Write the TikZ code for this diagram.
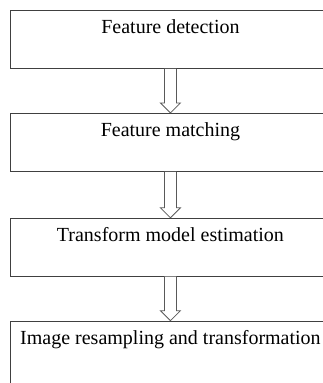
\documentclass[tikz,border=0pt]{standalone}
\usepackage{fontspec}
\setmainfont{Liberation Serif}
\usetikzlibrary{positioning,calc}
\begin{document}
\begin{tikzpicture}[x=1pt,y=1pt,
    stage/.style={draw=black!75, line width=0.9pt, minimum width=320pt, inner xsep=0pt,
      inner ysep=10pt, text height=13pt, text depth=25pt, font=\fontsize{20}{24}\selectfont},
    hollow/.style={draw=black!65, line width=0.8pt, fill=white}]
      \def\blockarrow#1#2{\draw[hollow] ($(#1.south)+(-6,0)$) -- ($(#2.north)+(-6,10)$)
        -- ($(#2.north)+(-10,10)$) -- (#2.north) -- ($(#2.north)+(10,10)$)
        -- ($(#2.north)+(6,10)$) -- ($(#1.south)+(6,0)$);}
      
      \path[use as bounding box, clip] (0,0) rectangle (323,-383);
      
      \node[stage, anchor=north west] (detect) at (10,-10) {Feature detection};
      \node[stage, below=44pt of detect] (match) {Feature matching};
      \node[stage, below=46pt of match] (model) {Transform model estimation};
      \node[stage, below=44pt of model, text depth=60pt] (resample) {Image resampling and transformation};
      
      \blockarrow{detect}{match}
      \blockarrow{match}{model}
      \blockarrow{model}{resample}
    \end{tikzpicture}
\end{document}
